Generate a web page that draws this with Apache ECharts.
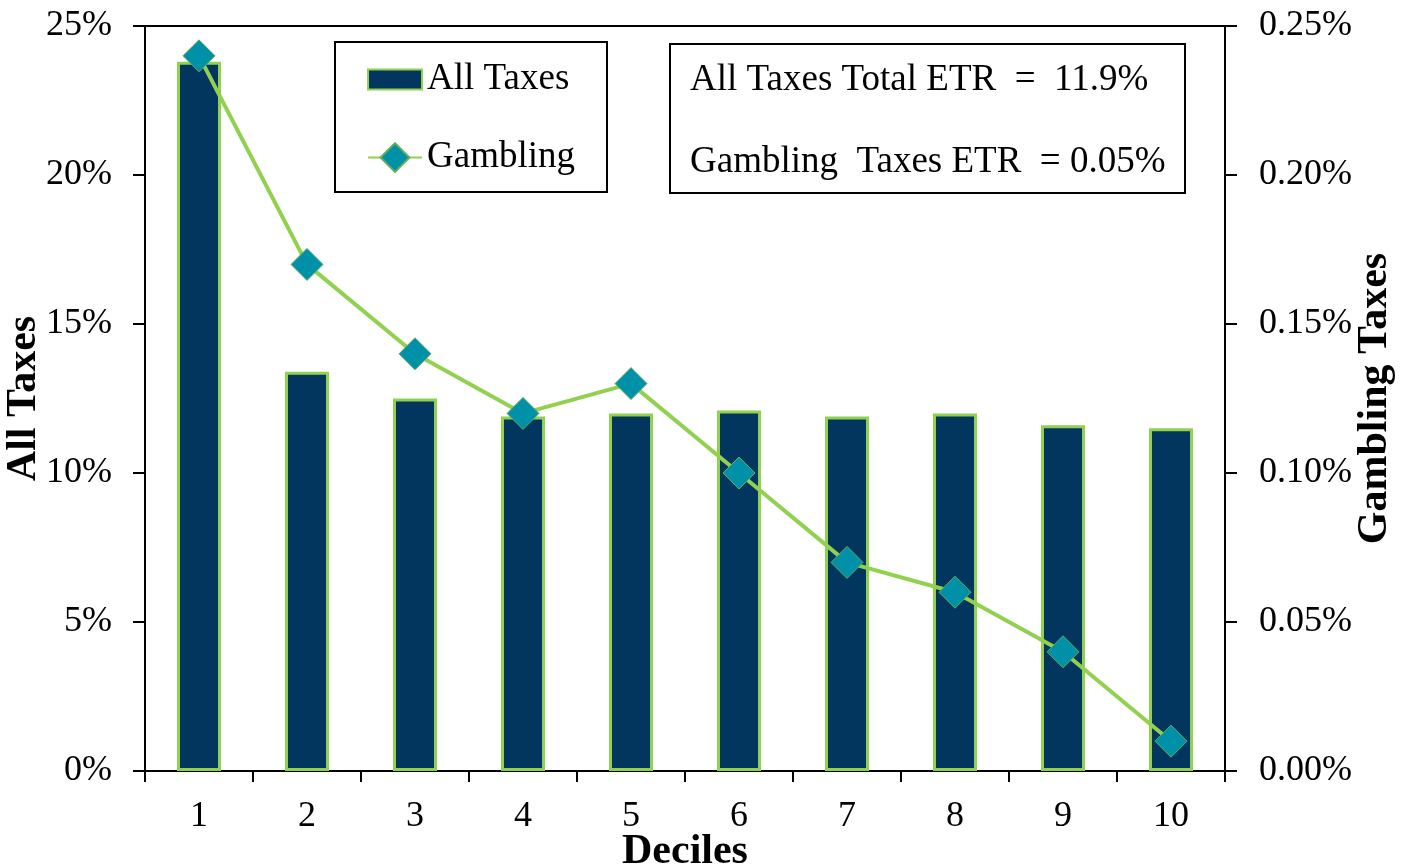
<!DOCTYPE html>
<html>
<head>
<meta charset="utf-8">
<script src="https://cdn.jsdelivr.net/npm/echarts@6/dist/echarts.min.js"></script>
<style>
  html, body { margin: 0; padding: 0; background: #fff; }
  #chart { width: 1404px; height: 867px; }
</style>
</head>
<body>
<div id="chart"></div>
<script>
// Effective tax rates by income decile
const deciles = ['1', '2', '3', '4', '5', '6', '7', '8', '9', '10'];
const allTaxes = [23.8, 13.4, 12.5, 11.9, 12.0, 12.1, 11.9, 12.0, 11.6, 11.5];
const gamblingTaxes = [0.24, 0.17, 0.14, 0.12, 0.13, 0.10, 0.07, 0.06, 0.04, 0.01];
const summaryLines = ['All Taxes Total ETR  =  11.9%', 'Gambling  Taxes ETR  = 0.05%'];

const FONT = '"Liberation Serif", "Times New Roman", serif';
const NAVY = '#02365F';
const GREEN = '#92D050';
const TEAL = '#0090A8';

const chart = echarts.init(document.getElementById('chart'));

const axisText = { color: '#000', fontFamily: FONT, fontSize: 36 };
const titleText = { color: '#000', fontFamily: FONT, fontSize: 42, fontWeight: 'bold' };
const legendText = { color: '#000', fontFamily: FONT, fontSize: 37 };

chart.setOption({
  animation: false,
  backgroundColor: '#fff',
  grid: {
    left: 145, right: 179, top: 26, bottom: 96,
    containLabel: false,
    outerBoundsMode: 'none',
    show: true, borderColor: '#000', borderWidth: 2, backgroundColor: 'transparent'
  },
  legend: [
    {
      left: 367, top: 61,
      padding: 0,
      itemWidth: 54, itemHeight: 20,
      textStyle: legendText,
      data: [{ name: 'All Taxes', icon: 'rect' }]
    },
    {
      left: 367, top: 139,
      padding: 0,
      itemWidth: 54, itemHeight: 36,
      textStyle: legendText,
      data: [{ name: 'Gambling' }]
    }
  ],
  xAxis: {
    type: 'category',
    data: deciles,
    name: 'Deciles',
    nameLocation: 'middle',
    nameGap: 60,
    nameMoveOverlap: false,
    nameTextStyle: titleText,
    axisLine: { lineStyle: { color: '#000', width: 2 } },
    axisTick: { show: true, inside: false, length: 11, lineStyle: { color: '#000', width: 2 } },
    axisLabel: Object.assign({ margin: 28 }, axisText)
  },
  yAxis: [
    {
      type: 'value',
      min: 0, max: 25, interval: 5,
      name: 'All Taxes',
      nameLocation: 'middle',
      nameGap: 100,
      nameRotate: 90,
      nameMoveOverlap: false,
      nameTextStyle: titleText,
      splitLine: { show: false },
      axisLine: { show: true, lineStyle: { color: '#000', width: 2 } },
      axisTick: { show: true, inside: false, length: 12, lineStyle: { color: '#000', width: 2 } },
      axisLabel: Object.assign({ margin: 33, formatter: '{value}%' }, axisText)
    },
    {
      type: 'value',
      min: 0, max: 0.25, interval: 0.05,
      name: 'Gambling Taxes',
      nameLocation: 'middle',
      nameGap: 129,
      nameRotate: 90,
      nameMoveOverlap: false,
      nameTextStyle: titleText,
      splitLine: { show: false },
      axisLine: { show: true, lineStyle: { color: '#000', width: 2 } },
      axisTick: { show: true, inside: false, length: 12, lineStyle: { color: '#000', width: 2 } },
      axisLabel: Object.assign({ margin: 34, formatter: v => v.toFixed(2) + '%' }, axisText)
    }
  ],
  series: [
    {
      name: 'All Taxes',
      type: 'bar',
      yAxisIndex: 0,
      data: allTaxes,
      barWidth: 44,
      itemStyle: { color: NAVY, borderColor: GREEN, borderWidth: 3 }
    },
    {
      name: 'Gambling',
      type: 'line',
      yAxisIndex: 1,
      data: gamblingTaxes,
      symbol: 'diamond',
      symbolSize: 32,
      lineStyle: { color: GREEN, width: 4 },
      itemStyle: { color: TEAL, borderColor: '#5FAE5A', borderWidth: 1 },
      z: 5
    }
  ],
  graphic: [
    {
      type: 'rect',
      left: 334, top: 41,
      shape: { x: 0, y: 0, width: 272, height: 150 },
      style: { fill: 'transparent', stroke: '#000', lineWidth: 2 },
      z: -1
    },
    {
      type: 'group',
      left: 669, top: 43,
      children: [
        {
          type: 'rect',
          shape: { x: 0, y: 0, width: 515, height: 149 },
          style: { fill: '#fff', stroke: '#000', lineWidth: 2 }
        },
        {
          type: 'text',
          x: 20, y: 36,
          style: { text: summaryLines[0], fill: '#000', font: '37px ' + FONT, textVerticalAlign: 'middle' }
        },
        {
          type: 'text',
          x: 20, y: 118,
          style: { text: summaryLines[1], fill: '#000', font: '37px ' + FONT, textVerticalAlign: 'middle' }
        }
      ]
    }
  ]
});
</script>
</body>
</html>
